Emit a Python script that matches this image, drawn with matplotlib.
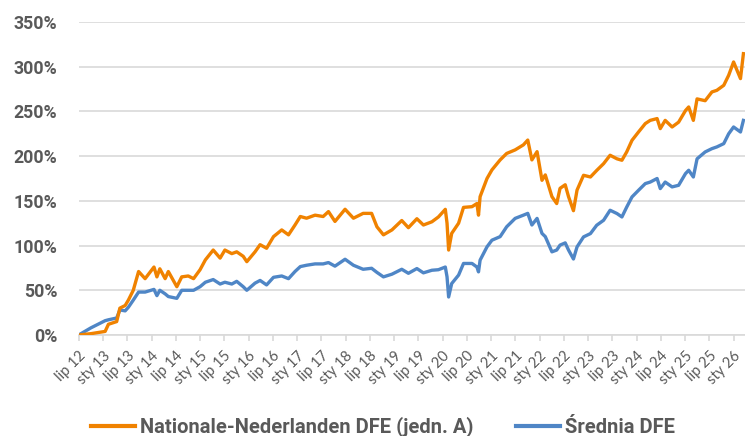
import matplotlib
matplotlib.use("Agg")
import matplotlib.pyplot as plt
import matplotlib.dates as mdates
import pandas as pd
from matplotlib.ticker import FuncFormatter, MultipleLocator

dates = [
    "2012-07-01", "2012-10-01", "2013-01-16", "2013-02-10", "2013-04-13", "2013-05-07",
    "2013-06-16", "2013-07-10", "2013-08-16", "2013-09-25", "2013-11-13", "2014-01-19",
    "2014-02-10", "2014-03-04", "2014-04-13", "2014-05-07", "2014-07-10", "2014-08-16",
    "2014-10-04", "2014-11-13", "2015-01-01", "2015-02-10", "2015-04-10", "2015-06-01",
    "2015-07-07", "2015-08-28", "2015-10-04", "2015-11-22", "2015-12-19", "2016-02-19",
    "2016-03-28", "2016-05-16", "2016-07-07", "2016-09-07", "2016-10-28", "2016-12-16",
    "2017-01-25", "2017-03-13", "2017-05-16", "2017-07-16", "2017-08-25", "2017-10-13",
    "2017-12-28", "2018-03-01", "2018-05-13", "2018-07-16", "2018-08-25", "2018-10-13",
    "2018-12-16", "2019-02-28", "2019-04-19", "2019-06-22", "2019-08-10", "2019-10-13",
    "2019-12-01", "2020-01-22", "2020-02-04", "2020-02-16", "2020-03-10", "2020-05-01",
    "2020-06-07", "2020-08-10", "2020-09-16", "2020-09-28", "2020-10-10", "2020-12-01",
    "2021-01-07", "2021-03-10", "2021-04-28", "2021-07-01", "2021-09-01", "2021-10-04",
    "2021-11-04", "2021-12-13", "2022-01-19", "2022-02-13", "2022-04-04", "2022-05-10",
    "2022-06-04", "2022-07-13", "2022-08-07", "2022-09-13", "2022-10-10", "2022-11-28",
    "2023-01-19", "2023-03-07", "2023-04-28", "2023-06-16", "2023-08-07", "2023-09-13",
    "2023-10-19", "2023-11-28", "2024-01-16", "2024-03-07", "2024-04-13", "2024-06-04",
    "2024-06-28", "2024-08-04", "2024-09-25", "2024-11-13", "2025-01-04", "2025-01-28",
    "2025-03-04", "2025-04-01", "2025-06-01", "2025-07-22", "2025-08-28", "2025-10-19",
    "2025-11-25", "2026-01-01", "2026-02-22", "2026-03-16",
]

nn_dfe = [
    0, 1.5, 4, 12, 15, 30,
    33, 39, 50, 71, 63, 76,
    65, 74, 63, 71, 54, 65,
    66, 63, 73, 84, 95, 86,
    95, 91, 93, 88, 82, 93,
    101, 97, 110, 117.5, 112, 123,
    132.5, 130.6, 134, 132.5, 138, 127,
    140.6, 130.6, 136, 136, 121, 112,
    117.5, 128, 120, 130, 123, 126.6,
    132, 140.5, 125, 95, 113.6, 125,
    142.7, 143.5, 147, 134, 154.7, 175,
    184.6, 195.8, 203, 207, 212.6, 218,
    195.8, 205, 173, 179, 154.7, 147,
    164, 168, 154.7, 139, 162, 178.6,
    176.7, 184, 191.6, 201, 197, 195.4,
    204.7, 217.7, 227, 236.4, 240, 242,
    230.8, 240, 232.6, 238, 251, 255,
    240, 264, 262, 271.8, 273.6, 279.2,
    290.4, 305.3, 286.7, 314.6,
]

srednia_dfe = [
    0, 8, 16, 17, 19, 28,
    27, 31, 39, 48, 48, 51,
    44, 50, 46, 43, 41, 50,
    50, 50, 54, 59, 62, 57,
    59, 57, 60, 54, 50, 58,
    61, 56, 64.5, 66, 63, 71,
    76.5, 78, 79.5, 79.5, 81, 77,
    84.7, 78, 73.5, 74.6, 70, 65,
    68, 73.5, 69, 74.3, 69.5, 72.4,
    73, 76, 65, 42.5, 57.5, 67,
    80, 80, 76, 70.6, 83.7, 98.6,
    106, 110, 121, 130.4, 134, 136,
    123, 130.4, 113.6, 110, 93, 95,
    100.5, 103, 95, 85, 98.5, 109.7,
    113.4, 122.7, 128.3, 139.5, 135.8, 132,
    143, 154.4, 161.8, 169.3, 171, 175,
    163.7, 171, 165.6, 167.4, 180.5, 184.2,
    176.7, 197, 204.7, 208.4, 210.3, 214,
    225, 232.6, 227, 240,
]

series_names = ["Nationale-Nederlanden DFE (jedn. A)", "Średnia DFE"]
month_names = {1: "sty", 7: "lip"}

x = pd.to_datetime(dates)

fig = plt.figure(figsize=(7.45, 4.36), dpi=100)
ax = fig.add_axes([78.7 / 745, 1 - 335 / 436, 1 - 78.7 / 745, (335 - 22) / 436])

orange = "#F08200"
blue = "#4F86C6"
gray_txt = "#595959"
bold_font = "Roboto"

l1, = ax.plot(x, nn_dfe, color=orange, lw=2.4, solid_joinstyle="round", zorder=3)
l2, = ax.plot(x, srednia_dfe, color=blue, lw=2.4, solid_joinstyle="round", zorder=2)

ax.set_ylim(0, 350)
ax.set_xlim(pd.Timestamp("2012-07-01"), pd.Timestamp("2026-03-28"))
ax.yaxis.set_major_locator(MultipleLocator(50))
ax.yaxis.set_major_formatter(FuncFormatter(lambda v, p: f"{int(v)}%"))
ax.grid(axis="y", color="#D9D9D9", lw=1.2)
ax.set_axisbelow(True)

for s in ["top", "right", "left"]:
    ax.spines[s].set_visible(False)
ax.spines["bottom"].set_color("#D9D9D9")
ax.spines["bottom"].set_linewidth(1.2)

ax.xaxis.set_major_locator(mdates.MonthLocator(bymonth=[1, 7]))
ax.xaxis.set_major_formatter(FuncFormatter(
    lambda v, p: f"{month_names[mdates.num2date(v).month]} {mdates.num2date(v).year % 100:02d}"))
ax.tick_params(axis="x", direction="out", length=4, width=1.2, color="#D9D9D9",
               labelsize=10.5, labelcolor=gray_txt, pad=6)
ax.tick_params(axis="y", length=0, labelsize=12.8, labelcolor=gray_txt, pad=15.5)
for lab in ax.get_xticklabels():
    lab.set_rotation(45)
    lab.set_ha("right")
    lab.set_rotation_mode("anchor")
    lab.set_fontfamily("Lato")
for lab in ax.get_yticklabels():
    lab.set_fontfamily(bold_font)
    lab.set_fontweight("bold")

leg = fig.legend([l1, l2], series_names, loc="center", bbox_to_anchor=(0.514, 1 - 427 / 436),
                 ncol=2, frameon=False, handlelength=2.2, handletextpad=0.25, columnspacing=2.1,
                 prop={"family": bold_font, "weight": "bold", "size": 14.5})
for t in leg.get_texts():
    t.set_color(gray_txt)
for h in leg.get_lines():
    h.set_linewidth(3)

fig.savefig("out.png", dpi=100)
